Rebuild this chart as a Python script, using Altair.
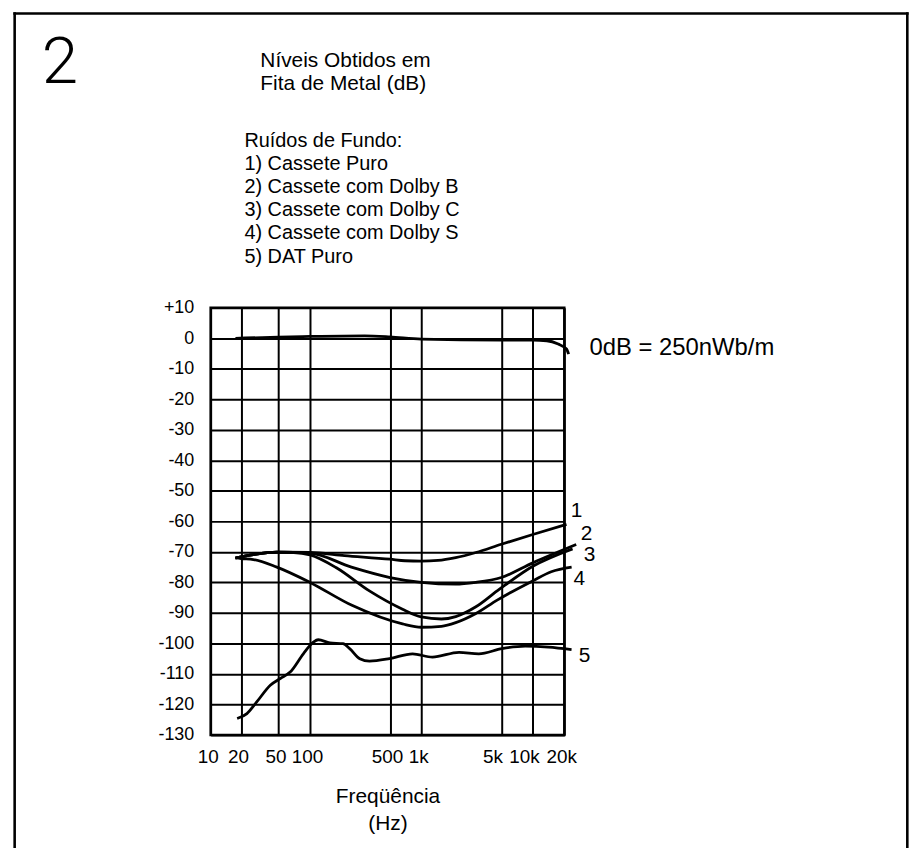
import altair as alt
import pandas as pd

# ---------------- data ----------------
x_ticks = [10, 20, 50, 100, 500, 1000, 5000, 10000, 20000]
x_tick_labels = ["10", "20", "50", "100", "500", "1k", "5k", "10k", "20k"]
y_ticks = [-130, -120, -110, -100, -90, -80, -70, -60, -50, -40, -30, -20, -10, 0, 10]
y_tick_labels = ["-130", "-120", "-110", "-100", "-90", "-80", "-70", "-60", "-50",
                 "-40", "-30", "-20", "-10", "0", "+10"]

ref_f = [17.6, 50, 100, 300, 500, 1000, 5000, 10000, 13600, 17500, 21000, 22000]
ref_db = [0.0, 0.4, 0.6, 0.8, 0.45, -0.3, -0.6, -0.6, -0.8, -1.9, -3.5, -5.2]

c1_f = [17.6, 27, 48, 100, 200, 500, 700, 1000, 1400, 2000, 3000, 5000, 10000, 21000]
c1_db = [-72, -70.9, -70.1, -70.2, -71.2, -72.4, -72.9, -73, -72.8, -71.9, -70.2, -67.5, -64.3, -61]

c2_f = [17.6, 27, 48, 100, 230, 500, 1000, 2000, 3000, 5000, 10000, 26000]
c2_db = [-72, -70.9, -70.1, -70.4, -75, -78.4, -80, -80.6, -80, -78.4, -73.6, -67.6]

c3_f = [17.6, 27, 48, 70, 100, 170, 330, 660, 1000, 1500, 2000, 3000, 4600, 10000, 24000]
c3_db = [-72, -70.9, -70.1, -70.2, -71, -75.2, -82.8, -88.8, -91.3, -92, -91.2, -88, -82.8, -74.7, -69]

c4_f = [17.6, 20, 27, 48, 100, 235, 660, 1000, 1500, 2000, 3000, 4600, 10000, 15000, 23500]
c4_db = [-72, -72.2, -72.5, -75, -80, -87.6, -93.6, -94.7, -94.4, -93.2, -90.2, -85.8, -79.5, -76.5, -75]

c5_f = [18.3, 23.1, 29.5, 40.9, 52, 64.6, 86.4, 107, 118, 149, 194, 222, 272, 331,
        494, 825, 1253, 2136, 3180, 5077, 8450, 14100, 23460]
c5_db = [-124.6, -123, -119.1, -113.7, -111.5, -109.4, -103.4, -99.6, -98.8, -99.8, -100.1,
         -101.7, -105, -105.8, -105, -103.4, -104.5, -102.9, -103.4, -101.7, -100.9, -101.2, -102]

curve_labels = ["1", "2", "3", "4", "5"]
curve_label_f = [26200, 32600, 34800, 27900, 31200]
curve_label_db = [-56.5, -64.2, -70.9, -79.0, -104.2]

ref_text = "0dB = 250nWb/m"
ref_text_f = [34800]
ref_text_db = [-3.3]

fig_number = "2"
title_lines = ["Níveis Obtidos em", "Fita de Metal (dB)"]
legend_lines = ["Ruídos de Fundo:", "1) Cassete Puro", "2) Cassete com Dolby B",
                "3) Cassete com Dolby C", "4) Cassete com Dolby S", "5) DAT Puro"]
x_title = ["Freqüência", "(Hz)"]

# ---------------- tables ----------------
rows = []
for name, fs, ds in [("ref", ref_f, ref_db), ("1", c1_f, c1_db), ("2", c2_f, c2_db),
                     ("3", c3_f, c3_db), ("4", c4_f, c4_db), ("5", c5_f, c5_db)]:
    for f, d in zip(fs, ds):
        rows.append({"serie": name, "freq": f, "db": d})
curves = pd.DataFrame(rows)
labels = pd.DataFrame({"t": curve_labels, "freq": curve_label_f, "db": curve_label_db})
reftxt = pd.DataFrame({"t": [ref_text], "freq": ref_text_f, "db": ref_text_db})
one = pd.DataFrame({"a": [0]})


def chain(vals, labs):
    expr = "''"
    for v, l in reversed(list(zip(vals, labs))):
        expr = f"datum.value == {v} ? '{l}' : ({expr})"
    return expr


FONT = "Liberation Sans"

xscale = alt.Scale(type="log", domain=x_ticks,
                   range=[0, 30.6, 68.3, 100, 180.6, 212, 292.6, 324.3, 356], nice=False)
yscale = alt.Scale(domain=[-130, 10], nice=False, zero=False)

x_axis = alt.Axis(values=x_ticks, labelExpr=chain(x_ticks, x_tick_labels), grid=True,
                  gridColor="black", gridWidth=2, gridOpacity=1, ticks=False, domain=False,
                  labelFont=FONT, labelFontSize=19, labelColor="black", labelPadding=13,
                  labelOverlap=False, labelFlush=False, labelBound=False,
                  labelOffset={"condition": {"test": "datum.value == 5000 || datum.value == 10000",
                                             "value": -9},
                               "value": -3},
                  title=x_title, titleFont=FONT, titleFontSize=21, titleFontWeight="normal",
                  titleColor="black", titleY=51, titleBaseline="top", titleLineHeight=27)
y_axis = alt.Axis(values=y_ticks, labelExpr=chain(y_ticks, y_tick_labels), grid=True,
                  gridColor="black", gridWidth=2, gridOpacity=1, ticks=False, domain=False,
                  tickCount=15,
                  labelFont=FONT, labelFontSize=18, labelColor="black", labelPadding=17,
                  labelOverlap=False, labelFlush=False, labelBound=False, title=None)

X = alt.X("freq:Q", scale=xscale, axis=x_axis)
Y = alt.Y("db:Q", scale=yscale, axis=y_axis)

lines = alt.Chart(curves).mark_line(color="black", strokeWidth=2.8, interpolate="monotone",
                                    clip=False).encode(x=X, y=Y, detail="serie:N")

num_labels = alt.Chart(labels).mark_text(font=FONT, fontSize=21, color="black",
                                         align="center", baseline="middle").encode(
    x=X, y=Y, text="t:N")

ref_label = alt.Chart(reftxt).mark_text(font=FONT, fontSize=24, color="black",
                                        align="left", baseline="middle").encode(
    x=X, y=Y, text="t:N")

big_num = alt.Chart(one).mark_text(font="Roboto", fontWeight=300, fontSize=66, color="black",
                                   align="left", baseline="alphabetic").encode(
    x=alt.value(-170), y=alt.value(-226), text=alt.value(fig_number))

title_block = alt.Chart(one).mark_text(font=FONT, fontSize=21, color="black", align="left",
                                       baseline="alphabetic", lineHeight=23).encode(
    x=alt.value(50), y=alt.value(-242), text=alt.value(title_lines))

legend_block = alt.Chart(one).mark_text(font=FONT, fontSize=20, color="black", align="left",
                                        baseline="alphabetic", lineHeight=23.3).encode(
    x=alt.value(34), y=alt.value(-162), text=alt.value(legend_lines))

frame_left = alt.Chart(one).mark_rule(color="black", strokeWidth=2.6).encode(
    x=alt.value(-197.3), y=alt.value(-297.6), y2=alt.value(560))
frame_right = alt.Chart(one).mark_rule(color="black", strokeWidth=2.6).encode(
    x=alt.value(701.3), y=alt.value(-297.6), y2=alt.value(560))
frame_top = alt.Chart(one).mark_rule(color="black", strokeWidth=2.6).encode(
    x=alt.value(-198.6), x2=alt.value(702.6), y=alt.value(-296.3))

chart = alt.layer(
    lines, num_labels, ref_label, big_num, title_block, legend_block,
    frame_left, frame_right, frame_top,
).properties(
    width=356, height=430,
    autosize=alt.AutoSizeParams(type="none"),
    padding={"left": 204, "top": 299, "right": 347, "bottom": 111},
    background="white",
).configure_view(
    stroke="black", strokeWidth=2.5,
)

chart.save("out.html", embed_options={"renderer": "svg", "actions": False})
